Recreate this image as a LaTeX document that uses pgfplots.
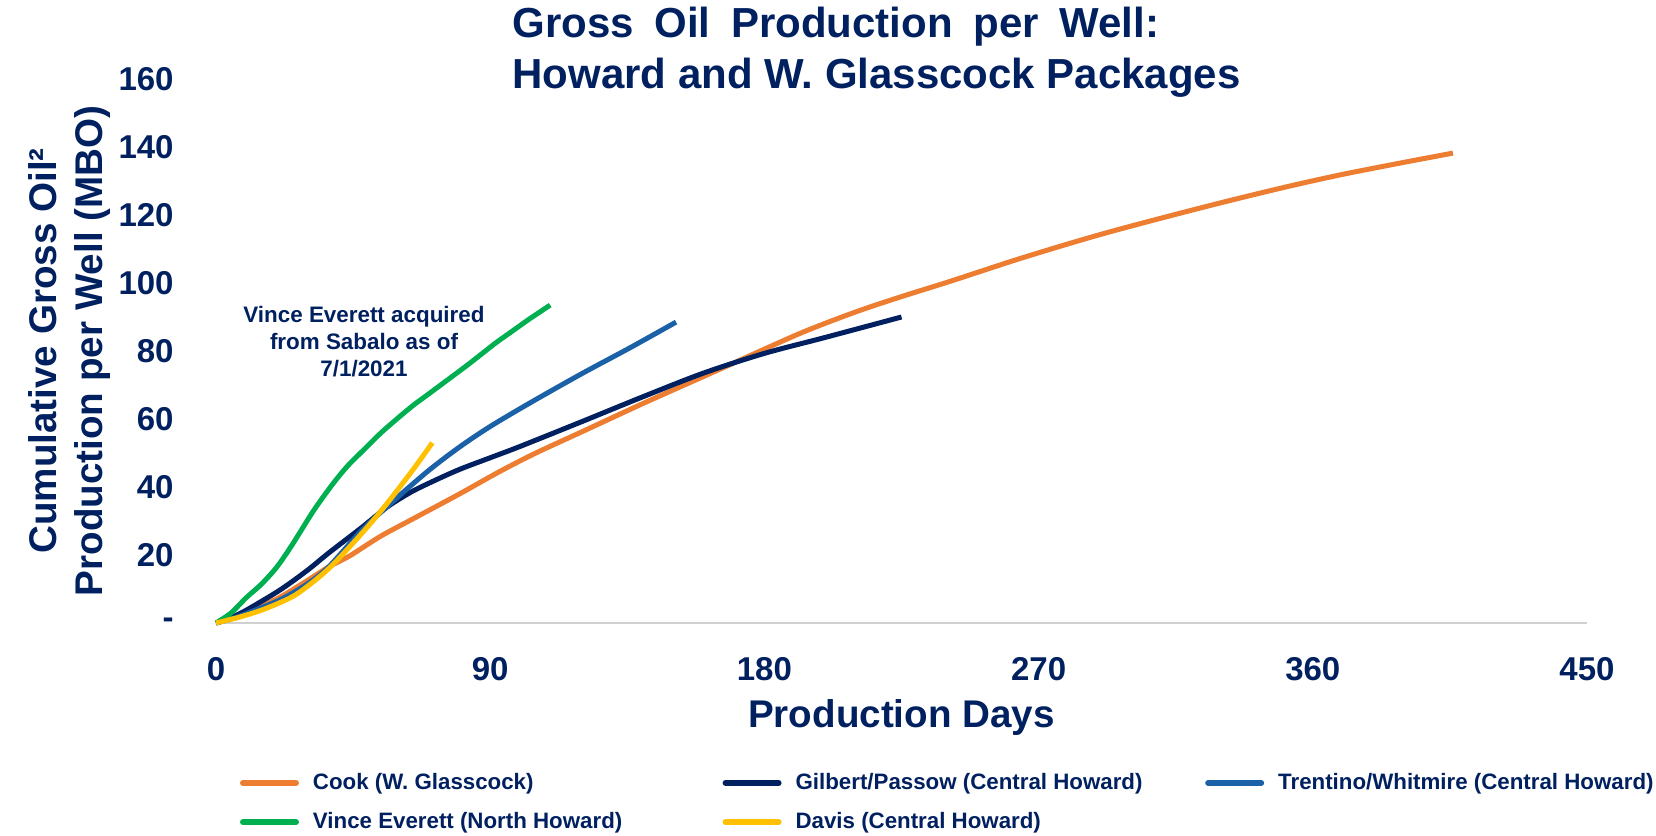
\documentclass[border=0pt]{standalone}
\usepackage{fontspec}
\setmainfont{Liberation Sans}
\usepackage{pgfplots}
\pgfplotsset{compat=1.18}
\definecolor{txt}{HTML}{002060}
\definecolor{cook}{HTML}{ED7D31}
\definecolor{gilbert}{HTML}{002060}
\definecolor{trentino}{HTML}{1B61A8}
\definecolor{vince}{HTML}{00B050}
\definecolor{davis}{HTML}{FFC000}
\definecolor{axisgray}{HTML}{D0D0D0}
\begin{document}
\begin{tikzpicture}
\useasboundingbox (-108pt,-106.5pt) rectangle (720pt,311.5pt);
\begin{axis}[
  at={(0pt,0pt)}, anchor=south west,
  scale only axis, width=685.5pt, height=272pt,
  xmin=0, xmax=450, ymin=0, ymax=160,
  clip=false,
  axis x line*=bottom, axis y line*=left,
  x axis line style={draw=axisgray, line width=1.4pt, -},
  y axis line style={draw=none, -},
  major tick length=0pt, tick style={draw=none},
  xtick={0,90,180,270,360,450},
  xticklabels={0,90,180,270,360,450},
  ytick={0,20,40,60,80,100,120,140,160},
  yticklabels={{-\hspace{8pt}},20,40,60,80,100,120,140,160},
  ticklabel style={font=\fontsize{16.5pt}{18pt}\selectfont\bfseries, text=txt},
  xticklabel style={anchor=base, yshift=-28.5pt},
  yticklabel style={anchor=east, inner sep=0pt, xshift=-21pt},
  every axis plot/.append style={line width=2.5pt, smooth, tension=0.5},
  legend columns=3,
  legend cell align=left,
  legend style={at={(axis description cs:0.0175,-0.33)}, anchor=west,
    draw=none, fill=none, inner sep=0pt, outer sep=0pt,
    font=\fontsize{11.15pt}{13pt}\selectfont\bfseries, text=txt,
    nodes={inner sep=0pt}, column sep=0pt, row sep=10pt},
  legend image code/.code={\draw[#1, line width=3pt, line cap=round] (1.5pt,0pt) -- (28pt,0pt);},
]
\addplot[cook] coordinates {
(0,0) (5,1.4) (10,2.9) (21,7.6) (30,12.5) (37,16.5) (44,19.8) (54,25.5) (65,30.8)
(80,38) (93,44.5) (105,50) (120,56.2) (140,64.5) (155,70.5) (170,76.5) (192,85.3)
(210,91.5) (225,96) (241,100.5) (265,107.5) (292,114.7) (325,122.5) (350,128)
(369,131.8) (390,135.5) (406,138.2)};
\addlegendentry{\makebox[211.8pt][l]{\hspace{7pt}Cook (W. Glasscock)}}
\addplot[gilbert] coordinates {
(0,0) (5,1.6) (10,3.8) (21,9.7) (30,15.5) (37,20.6) (48,28.2) (56,34) (64,38.5)
(72,42) (80,45.2) (90,48.6) (100,52) (120,59.2) (140,66.5) (160,73.5) (180,79.3)
(200,84) (225,90)};
\addlegendentry{\makebox[211.8pt][l]{\hspace{7pt}Gilbert/Passow (Central Howard)}}
\addplot[trentino] coordinates {
(0,0) (5,1.2) (10,2.8) (21,6.8) (30,11.5) (37,16.5) (48,27.4) (59,36.5) (70,45)
(80,51.8) (90,57.8) (103,64.7) (120,73.3) (136,81) (151,88.5)};
\addlegendentry{\hspace{7pt}Trentino/Whitmire (Central Howard)}
\addplot[vince] coordinates {
(0,0) (5,3) (10,7.5) (15,11.5) (20,16.5) (25,23) (32,33) (38,40.5) (43,46)
(48,50.5) (54,55.8) (60,60.5) (65,64.2) (70,67.5) (76,71.5) (82,75.5) (87,79)
(92,82.5) (97.5,86) (103,89.5) (109.7,93.5)};
\addlegendentry{\makebox[211.8pt][l]{\hspace{7pt}Vince Everett (North Howard)}}
\addplot[davis] coordinates {
(0,0) (8,1.8) (15,3.8) (21,6) (27,8.8) (37,16) (48,26.5) (56,35) (65,45.5) (71,53)};
\addlegendentry{\makebox[211.8pt][l]{\hspace{7pt}Davis (Central Howard)}}
\end{axis}
\node[anchor=base west, inner sep=0pt, text=txt, font=\fontsize{21pt}{25.5pt}\selectfont\bfseries] at (148pt,292.5pt) {Gross\hspace{4.5pt} Oil\hspace{4.5pt} Production\hspace{4.5pt} per\hspace{4.5pt} Well:};
\node[anchor=base west, inner sep=0pt, text=txt, font=\fontsize{21pt}{25.5pt}\selectfont\bfseries] at (148pt,267pt) {Howard and W. Glasscock Packages};
\node[rotate=90, align=center, inner sep=0pt, text=txt, font=\fontsize{19.3pt}{23pt}\selectfont\bfseries] at (-73pt,136pt) {Cumulative Gross Oil²\\Production per Well (MBO)};
\node[anchor=base, inner sep=0pt, text=txt, font=\fontsize{19.3pt}{23pt}\selectfont\bfseries] at (342.75pt,-52pt) {Production Days};
\node[align=center, inner sep=0pt, text=txt, font=\fontsize{11.2pt}{13.5pt}\selectfont\bfseries] at (74pt,140.5pt) {Vince Everett acquired\\from Sabalo as of\\7/1/2021};
\end{tikzpicture}
\end{document}
